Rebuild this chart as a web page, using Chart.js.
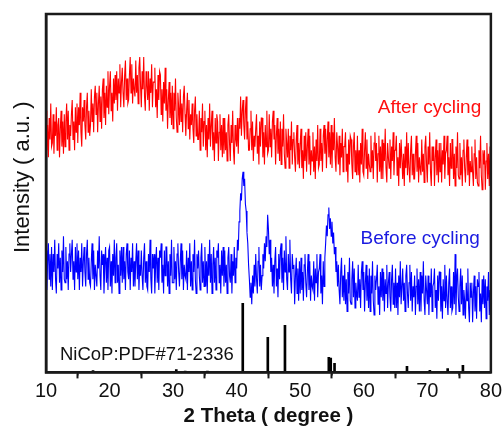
<!DOCTYPE html>
<html>
<head>
<meta charset="utf-8">
<script src="https://cdn.jsdelivr.net/npm/chart.js@4/dist/chart.umd.min.js"></script>
<style>
  html, body { margin: 0; padding: 0; background: #fff; }
  #wrap { width: 503px; height: 430px; }
</style>
</head>
<body>
<div id="wrap"><canvas id="chart" width="503" height="430"></canvas></div>
<script>
// scan grid of both patterns: 10..80 degrees, 0.125 degree step
const scanStart = 10;
const scanStep = 0.125;

// red trace, "After cycling" (one line per degree, 10 .. 79, then 80)
const afterCycling = [
    73, 62, 69, 60, 71, 65, 75, 63,
    64, 72, 61, 70, 66, 74, 62, 69,
    71, 60, 68, 73, 63, 70, 61, 72,
    63, 70, 75, 65, 73, 62, 69, 66,
    72, 76, 65, 70, 62, 74, 67, 75,
    64, 74, 69, 78, 67, 63, 74, 70,
    76, 69, 65, 74, 78, 67, 73, 66,
    69, 79, 70, 75, 67, 77, 80, 72,
    78, 67, 75, 80, 70, 77, 68, 79,
    82, 71, 78, 69, 80, 74, 84, 72,
    80, 84, 73, 78, 70, 82, 75, 83,
    76, 84, 73, 82, 78, 86, 74, 81,
    85, 78, 74, 83, 87, 76, 82, 75,
    76, 83, 88, 78, 86, 75, 82, 79,
    77, 87, 78, 83, 75, 85, 88, 80,
    74, 84, 79, 88, 77, 73, 84, 80,
    76, 84, 73, 82, 78, 86, 74, 81,
    81, 85, 74, 79, 71, 83, 76, 84,
    83, 72, 79, 70, 81, 75, 85, 73,
    79, 68, 76, 81, 71, 78, 69, 80,
    68, 78, 73, 82, 71, 67, 78, 74,
    69, 79, 70, 75, 67, 77, 80, 72,
    66, 73, 78, 68, 76, 65, 72, 69,
    75, 68, 64, 73, 77, 66, 72, 65,
    65, 73, 62, 71, 67, 75, 63, 70,
    73, 62, 69, 60, 71, 65, 75, 63,
    69, 73, 62, 67, 59, 71, 64, 72,
    70, 59, 67, 72, 62, 69, 60, 71,
    61, 71, 62, 67, 59, 69, 72, 64,
    59, 69, 64, 73, 62, 58, 69, 65,
    63, 71, 61, 71, 68, 77, 66, 73,
    76, 69, 65, 73, 77, 65, 70, 62,
    62, 68, 73, 62, 70, 59, 66, 63,
    68, 72, 61, 66, 58, 70, 63, 71,
    71, 60, 67, 58, 69, 63, 73, 61,
    62, 72, 63, 68, 60, 70, 73, 65,
    69, 58, 66, 71, 61, 68, 59, 70,
    58, 68, 63, 72, 61, 57, 68, 64,
    60, 68, 57, 66, 62, 70, 58, 65,
    67, 60, 56, 65, 69, 58, 64, 57,
    64, 68, 57, 62, 54, 66, 59, 67,
    56, 63, 68, 58, 66, 55, 62, 59,
    67, 56, 63, 54, 65, 59, 69, 57,
    58, 68, 59, 64, 56, 66, 69, 61,
    68, 57, 65, 70, 60, 67, 58, 69,
    57, 67, 62, 71, 60, 56, 67, 63,
    58, 66, 55, 64, 60, 68, 56, 63,
    63, 67, 56, 61, 53, 65, 58, 66,
    65, 58, 54, 63, 67, 56, 62, 55,
    66, 55, 62, 53, 64, 58, 68, 56,
    55, 62, 67, 57, 65, 54, 61, 58,
    56, 66, 57, 62, 54, 64, 67, 59,
    64, 53, 61, 66, 56, 63, 54, 65,
    54, 64, 59, 68, 57, 53, 64, 60,
    57, 65, 54, 63, 59, 67, 55, 62,
    62, 66, 55, 60, 52, 64, 57, 65,
    65, 54, 61, 52, 63, 57, 67, 55,
    64, 57, 53, 62, 66, 55, 61, 54,
    54, 61, 66, 56, 64, 53, 60, 57,
    55, 65, 56, 61, 53, 63, 66, 58,
    53, 63, 58, 67, 56, 52, 63, 59,
    63, 52, 60, 65, 55, 62, 53, 64,
    56, 64, 53, 62, 58, 66, 54, 61,
    62, 66, 55, 60, 52, 64, 57, 65,
    65, 54, 61, 52, 63, 57, 67, 55,
    54, 64, 55, 60, 52, 62, 65, 57,
    53, 60, 65, 55, 63, 52, 59, 56,
    63, 56, 52, 61, 65, 54, 60, 53,
    52, 62, 57, 66, 55, 51, 62, 58,
    62, 51, 59, 64, 54, 61, 52, 63,
    56
];

// blue trace, "Before cycling"
const beforeCycling = [
    34, 23, 31, 36, 26, 33, 24, 35,
    23, 33, 28, 37, 26, 22, 33, 29,
    36, 25, 32, 23, 34, 28, 38, 26,
    25, 35, 26, 31, 23, 33, 36, 28,
    33, 37, 26, 31, 23, 35, 28, 36,
    26, 34, 23, 32, 28, 36, 24, 31,
    35, 28, 24, 33, 37, 26, 32, 25,
    24, 31, 36, 26, 34, 23, 30, 27,
    24, 34, 29, 38, 27, 23, 34, 30,
    33, 22, 30, 35, 25, 32, 23, 34,
    35, 24, 31, 22, 33, 27, 37, 25,
    32, 36, 25, 30, 22, 34, 27, 35,
    25, 35, 26, 31, 23, 33, 36, 28,
    26, 34, 23, 32, 28, 36, 24, 31,
    24, 31, 36, 26, 34, 23, 30, 27,
    34, 27, 23, 32, 36, 25, 31, 24,
    23, 33, 28, 37, 26, 22, 33, 29,
    33, 22, 30, 35, 25, 32, 23, 34,
    32, 36, 25, 30, 22, 34, 27, 35,
    35, 24, 31, 22, 33, 27, 37, 25,
    25, 35, 26, 31, 23, 33, 36, 28,
    24, 31, 36, 26, 34, 23, 30, 27,
    26, 34, 23, 32, 28, 36, 24, 31,
    23, 33, 28, 37, 26, 22, 33, 29,
    34, 27, 23, 32, 36, 25, 31, 24,
    35, 24, 31, 22, 33, 27, 37, 25,
    33, 22, 30, 35, 25, 32, 23, 34,
    32, 36, 25, 30, 22, 34, 27, 35,
    24, 34, 25, 30, 22, 32, 35, 27,
    25, 33, 22, 31, 27, 35, 25, 32,
    29, 37, 34, 42, 45, 50, 48, 54,
    56, 52, 54, 47, 45, 39, 36, 30,
    26, 21, 25, 19, 27, 22, 30, 24,
    33, 26, 22, 31, 35, 24, 30, 23,
    27, 33, 29, 36, 31, 38, 35, 44,
    40, 33, 37, 28, 32, 24, 30, 22,
    31, 35, 24, 29, 21, 33, 26, 34,
    36, 25, 32, 23, 34, 28, 38, 26,
    23, 33, 28, 37, 26, 22, 33, 29,
    30, 19, 27, 32, 22, 29, 20, 31,
    22, 32, 23, 28, 20, 30, 33, 25,
    21, 28, 33, 23, 31, 20, 27, 24,
    23, 31, 20, 29, 25, 33, 21, 28,
    29, 33, 22, 27, 19, 31, 24, 32,
    36, 41, 38, 44, 46, 40, 43, 38,
    42, 36, 39, 33, 35, 28, 31, 24,
    30, 23, 19, 28, 32, 21, 27, 20,
    30, 19, 26, 17, 28, 22, 32, 20,
    19, 26, 31, 21, 29, 18, 25, 22,
    20, 30, 21, 26, 18, 28, 31, 23,
    28, 17, 25, 30, 20, 27, 18, 29,
    17, 27, 22, 31, 20, 16, 27, 23,
    26, 30, 19, 24, 16, 28, 21, 29,
    20, 28, 17, 26, 22, 30, 18, 25,
    28, 21, 17, 26, 30, 19, 25, 18,
    29, 18, 25, 16, 27, 21, 31, 19,
    19, 29, 20, 25, 17, 27, 30, 22,
    18, 25, 30, 20, 28, 17, 24, 21,
    27, 16, 24, 29, 19, 26, 17, 28,
    17, 27, 22, 31, 20, 16, 27, 23,
    19, 27, 16, 25, 21, 29, 17, 24,
    25, 29, 18, 23, 15, 27, 20, 28,
    28, 17, 24, 15, 26, 20, 30, 18,
    27, 20, 16, 25, 29, 18, 24, 17,
    18, 28, 19, 33, 16, 26, 29, 21,
    17, 24, 29, 19, 27, 16, 23, 20,
    15, 25, 20, 29, 18, 14, 25, 21,
    25, 14, 22, 27, 17, 24, 15, 26,
    24, 28, 17, 22, 14, 26, 19, 27,
    18, 26, 15, 24, 20, 28, 16, 23,
    21
];

// NiCoP reference pattern PDF#71-2336
const stickAngles = [17.4, 26.6, 30.5, 31.9, 35.4, 40.96, 44.9, 47.6, 54.5, 54.8, 55.4, 64.0, 66.8, 70.4, 73.2, 75.6];
const stickHeights = [0.5, 0.3, 0.8, 0.4, 0.4, 19.3, 9.8, 13.1, 4.2, 4.0, 2.5, 0.3, 1.7, 0.6, 1.1, 2.0];

const xTicks = [10, 20, 30, 40, 50, 60, 70, 80];

const fontFamily = '"Liberation Sans", Arial, "Noto Sans CJK SC", sans-serif';

function toPoints(values) {
    return values.map((v, i) => ({ x: scanStart + i * scanStep, y: v }));
}

const decorations = {
    id: "decorations",
    afterDraw(chart) {
        const ctx = chart.ctx;
        const area = chart.chartArea;
        const x = chart.scales.x;
        const y = chart.scales.y;
        ctx.save();

        // closed frame
        ctx.strokeStyle = "#1a1a1a";
        ctx.lineWidth = 2.5;
        ctx.strokeRect(area.left, area.top, area.right - area.left, area.bottom - area.top);

        // short minor ticks between labelled ones
        ctx.lineWidth = 1.5;
        for (let i = 0; i < xTicks.length - 1; i++) {
            const px = x.getPixelForValue((xTicks[i] + xTicks[i + 1]) / 2);
            ctx.beginPath();
            ctx.moveTo(px, area.bottom);
            ctx.lineTo(px, area.bottom + 3);
            ctx.stroke();
        }

        // in-plot labels
        ctx.textBaseline = "middle";
        ctx.textAlign = "left";
        ctx.font = "19px " + fontFamily;
        ctx.fillStyle = "#ff1010";
        ctx.fillText("After cycling", x.getPixelForValue(62.2), y.getPixelForValue(73.8));
        ctx.fillStyle = "#1a1ae0";
        ctx.fillText("Before cycling", x.getPixelForValue(59.5), y.getPixelForValue(37.2));
        ctx.fillStyle = "#111";
        ctx.font = "18.5px " + fontFamily;
        ctx.fillText("NiCoP:PDF#71-2336", x.getPixelForValue(12.2), y.getPixelForValue(4.9));

        // y axis title, sits above the axis middle
        ctx.translate(23, (area.top + area.bottom) / 2 - 16);
        ctx.rotate(-Math.PI / 2);
        ctx.textAlign = "center";
        ctx.font = "22px " + fontFamily;
        ctx.fillText("Intensity ( a.u. )", 0, 0);
        ctx.restore();
    }
};

const ctx = document.querySelector("#chart").getContext("2d");
const data = {
    datasets: [
        {
            label: "After cycling",
            data: toPoints(afterCycling),
            borderColor: "#ff0000",
            borderWidth: 1.1,
            pointRadius: 0,
            tension: 0,
        },
        {
            label: "Before cycling",
            data: toPoints(beforeCycling),
            borderColor: "#0000ff",
            borderWidth: 1.1,
            pointRadius: 0,
            tension: 0,
        },
        {
            type: "bar",
            label: "NiCoP:PDF#71-2336",
            data: stickAngles.map((a, i) => ({ x: a, y: stickHeights[i] })),
            backgroundColor: "#000",
            barThickness: 2,
            grouped: false,
        },
    ],
};

const config = {
    type: "line",
    data: data,
    options: {
        responsive: false,
        animation: false,
        layout: { padding: { left: 46, right: 12, top: 14, bottom: 1 } },
        plugins: {
            legend: { display: false },
            tooltip: { enabled: false },
        },
        scales: {
            x: {
                type: "linear",
                min: 10,
                max: 80,
                offset: false,
                afterBuildTicks: (scale) => {
                    scale.ticks = xTicks.map((v) => ({ value: v }));
                },
                ticks: {
                    color: "#111",
                    font: { family: fontFamily, size: 20 },
                    padding: 1,
                    maxRotation: 0,
                },
                grid: {
                    drawOnChartArea: false,
                    drawTicks: true,
                    tickLength: 6,
                    tickWidth: 2,
                    tickColor: "#1a1a1a",
                },
                border: { display: true, color: "#1a1a1a", width: 2.5 },
                title: {
                    display: true,
                    text: "2 Theta ( degree )",
                    color: "#111",
                    font: { family: fontFamily, size: 20.5, weight: "bold" },
                    padding: { top: 0, bottom: 0 },
                },
            },
            y: {
                min: 0,
                max: 100,
                ticks: { display: false },
                grid: { display: false, drawTicks: false },
                border: { display: true, color: "#1a1a1a", width: 2.5 },
            },
        },
    },
    plugins: [decorations],
};

const chart = new Chart(ctx, config);
</script>
</body>
</html>
